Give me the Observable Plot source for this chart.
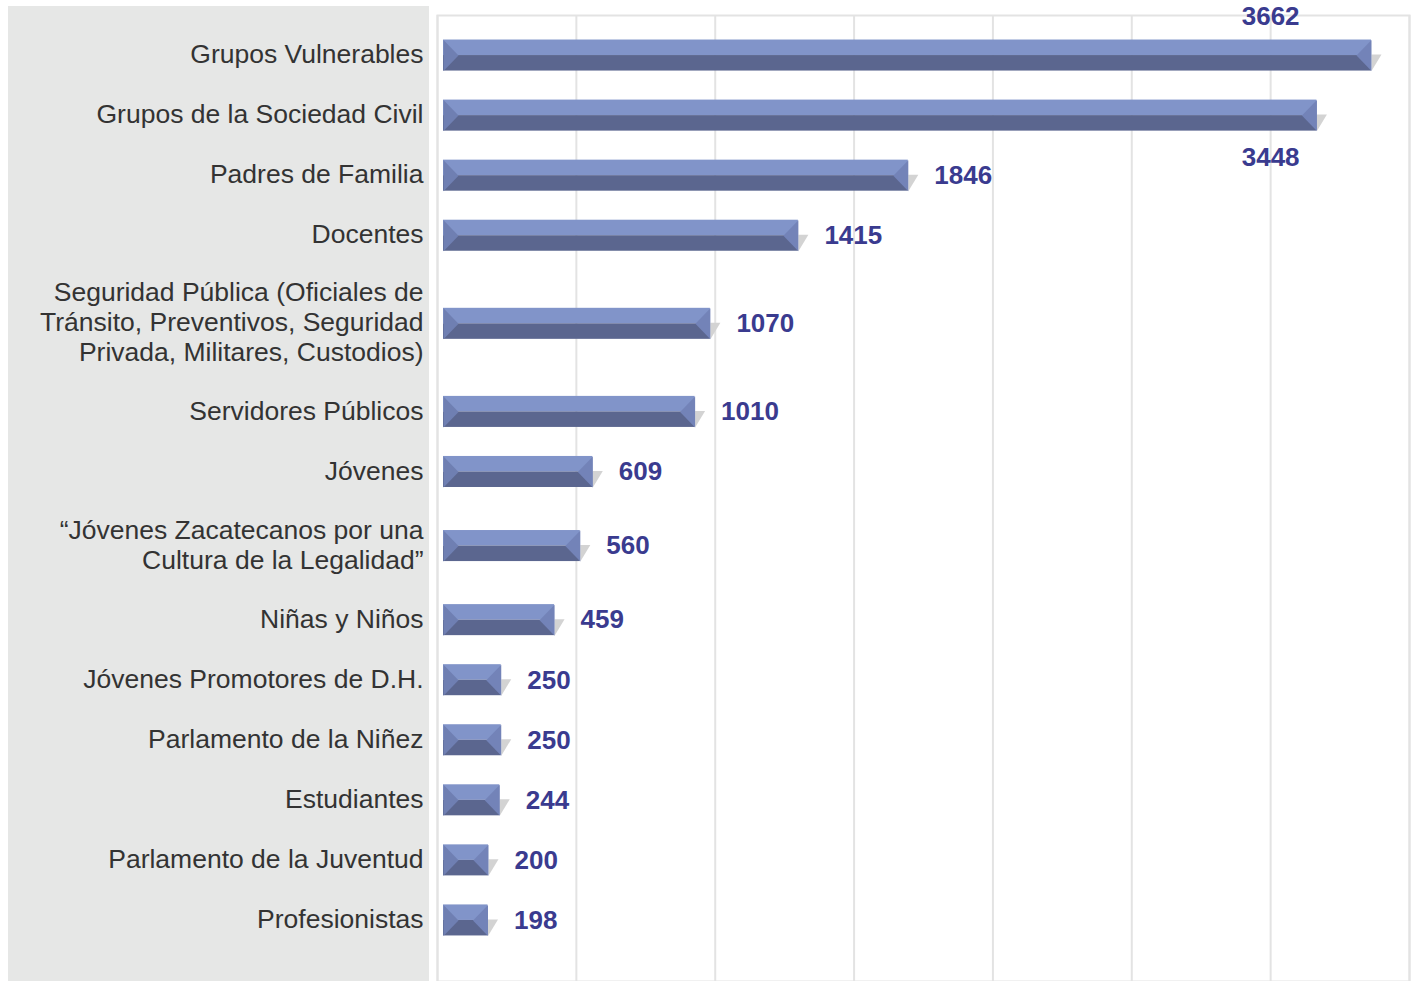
<!DOCTYPE html>
<html>
<head>
<meta charset="utf-8">
<script src="https://cdn.jsdelivr.net/npm/d3@7"></script>
<script src="https://cdn.jsdelivr.net/npm/@observablehq/plot@0.6"></script>
<style>
  html, body { margin: 0; padding: 0; background: #ffffff; }
  #wrap { position: relative; width: 1415px; height: 981px; overflow: hidden; }
  #panel { position: absolute; left: 8px; top: 6px; width: 421px; height: 975px; background: #e6e7e6; }
  #chart { position: absolute; left: 0; top: 0; }
</style>
</head>
<body>
<div id="wrap"><div id="panel"></div><div id="chart"></div></div>
<script>
const categories = [
  "Grupos Vulnerables",
  "Grupos de la Sociedad Civil",
  "Padres de Familia",
  "Docentes",
  "Seguridad Pública (Oficiales de\nTránsito, Preventivos, Seguridad\nPrivada, Militares, Custodios)",
  "Servidores Públicos",
  "Jóvenes",
  "“Jóvenes Zacatecanos por una\nCultura de la Legalidad”",
  "Niñas y Niños",
  "Jóvenes Promotores de D.H.",
  "Parlamento de la Niñez",
  "Estudiantes",
  "Parlamento de la Juventud",
  "Profesionistas"
];
const values = [3662, 3448, 1846, 1415, 1070, 1010, 609, 560, 459, 250, 250, 244, 200, 198];

// layout: each row's slot grows with the number of text lines of its label
const lineCounts = categories.map(c => c.split("\n").length);
const slots = lineCounts.map(n => 60 + 28 * (n - 1));
const pos = [0];
for (let i = 1; i < categories.length; i++) pos.push(pos[i - 1] + (slots[i - 1] + slots[i]) / 2);

const data = categories.map((c, i) => ({category: c, value: values[i], pos: pos[i]}));

const xMax = 3811;
const gridTicks = d3.range(8).map(i => i * xMax / 7);
const half = 15.5;

const leftFacet = {draw(ctx) { ctx.moveTo(0, -half); ctx.lineTo(15, 0); ctx.lineTo(0, half); ctx.closePath(); }};
const rightFacet = {draw(ctx) { ctx.moveTo(0, -half); ctx.lineTo(-15, 0); ctx.lineTo(0, half); ctx.closePath(); }};
const shadow = {draw(ctx) { ctx.moveTo(0, -1); ctx.lineTo(10, -1); ctx.lineTo(0, half); ctx.closePath(); }};

const font = "'Liberation Sans', Arial, Helvetica, sans-serif";
const labelColor = "#3a3b8f";

const chart = Plot.plot({
  width: 1415,
  height: 981,
  marginTop: 15,
  marginBottom: 0,
  marginLeft: 437,
  marginRight: 6,
  style: {fontFamily: font, background: "transparent", overflow: "visible"},
  x: {domain: [0, xMax], axis: null},
  y: {domain: [pos[0] - 40, pos[pos.length - 1] + 61], range: [15, 981], axis: null},
  marks: [
    Plot.ruleX(gridTicks, {stroke: "#e3e3e3", strokeWidth: 2}),
    Plot.frame({stroke: "#e3e3e3", strokeWidth: 2}),
    Plot.dot(data, {x: "value", y: "pos", symbol: shadow, fill: "#d3d3d3", stroke: null}),
    Plot.rect(data, {x1: d => 0, x2: "value", y1: d => d.pos - half, y2: d => d.pos, insetLeft: 6, fill: "#8194c9"}),
    Plot.rect(data, {x1: d => 0, x2: "value", y1: d => d.pos, y2: d => d.pos + half, insetLeft: 6, fill: "#5b668f"}),
    Plot.dot(data, {x: d => 0, y: "pos", dx: 6, symbol: leftFacet, fill: "#6f7fb2", stroke: null}),
    Plot.dot(data, {x: "value", y: "pos", symbol: rightFacet, fill: "#7383b8", stroke: null}),
    Plot.text(data, {frameAnchor: "left", y: "pos", text: "category", dx: -14, dy: -2, textAnchor: "end",
      fontSize: 26.5, lineHeight: 1.13, fill: "#333333"}),
    Plot.text(data.slice(2), {x: "value", y: "pos", text: d => String(d.value), dx: 26, textAnchor: "start",
      fontSize: 26, fontWeight: "bold", fill: labelColor}),
    Plot.text(data.slice(0, 1), {x: d => gridTicks[6], y: "pos", text: d => String(d.value), dy: -39,
      textAnchor: "middle", fontSize: 26, fontWeight: "bold", fill: labelColor}),
    Plot.text(data.slice(1, 2), {x: d => gridTicks[6], y: "pos", text: d => String(d.value), dy: 42,
      textAnchor: "middle", fontSize: 26, fontWeight: "bold", fill: labelColor})
  ]
});
document.getElementById("chart").appendChild(chart);
</script>
</body>
</html>
